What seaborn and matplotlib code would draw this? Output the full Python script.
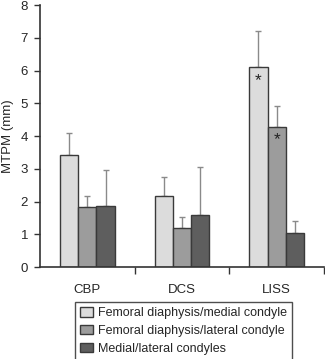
import matplotlib
matplotlib.use("Agg")
import matplotlib.pyplot as plt
import seaborn as sns
import pandas as pd
import numpy as np

categories = ["CBP", "DCS", "LISS"]
series = ["Femoral diaphysis/medial condyle", "Femoral diaphysis/lateral condyle", "Medial/lateral condyles"]
medial = [3.42, 2.18, 6.10]
lateral = [1.82, 1.20, 4.28]
condyles = [1.87, 1.60, 1.03]
err_medial = [0.66, 0.57, 1.10]
err_lateral = [0.36, 0.32, 0.65]
err_condyles = [1.10, 1.46, 0.38]
colors = ["#dcdcdc", "#9c9c9c", "#5e5e5e"]

vals = [medial, lateral, condyles]
errs = [err_medial, err_lateral, err_condyles]
rows = []
for s, v in zip(series, vals):
    for c, x in zip(categories, v):
        rows.append({"cat": c, "series": s, "val": x})
df = pd.DataFrame(rows)

sns.set_style("white")
plt.rcParams["font.family"] = ["Liberation Sans", "DejaVu Sans"]

fig = plt.figure(figsize=(3.25, 3.59), dpi=100)
ax = fig.add_axes([0.123, 0.256, 0.874, 0.730])
sns.barplot(data=df, x="cat", y="val", hue="series", palette=colors, order=categories,
            hue_order=series, errorbar=None, width=0.58, edgecolor="#3a3a3a",
            linewidth=1.0, ax=ax, legend=True)

bar_containers = list(ax.containers)
# error bars (upper only)
for i, cont in enumerate(bar_containers):
    for j, p in enumerate(cont.patches):
        p.set_zorder(2)
        xc = p.get_x() + p.get_width() / 2
        h = p.get_height()
        ax.errorbar(xc, h, yerr=[[0], [errs[i][j]]], fmt="none", ecolor="#8a8a8a",
                    elinewidth=1.0, capsize=2.3, capthick=1.0, zorder=1)

# asterisks
for i in range(2):
    p = bar_containers[i].patches[2]
    xc = p.get_x() + p.get_width() / 2
    ax.text(xc, p.get_height() - 0.4, "*", ha="center", va="center", fontsize=12.5, color="#222222")

ax.set_ylim(0, 8)
ax.set_xlim(-0.5, 2.5)
ax.set_yticks(range(0, 9))
ax.set_ylabel("MTPM (mm)", fontsize=9.5, labelpad=5)
ax.set_xlabel("")
ax.tick_params(axis="y", labelsize=9.5, length=4.5, width=1, direction="out", left=True, color="#333333", pad=4)
ax.tick_params(axis="x", which="major", length=0, labelsize=9.5, pad=12)
ax.set_xticks([0.5, 1.5, 2.5], minor=True)
ax.tick_params(axis="x", which="minor", length=5, width=1, direction="out", bottom=True, color="#333333")
sns.despine(ax=ax)
for s in ["left", "bottom"]:
    ax.spines[s].set_color("#333333")
    ax.spines[s].set_linewidth(1.2)

h, l = ax.get_legend_handles_labels()
ax.get_legend().remove()
leg = fig.legend(h, l, loc="upper left", bbox_to_anchor=(75 / 325, 1 - 302 / 359),
                 fontsize=9.0, frameon=True, fancybox=False, edgecolor="#222222",
                 handlelength=1.0, handleheight=0.8, handletextpad=0.4,
                 labelspacing=0.45, borderpad=0.4, borderaxespad=0)
leg.get_frame().set_linewidth(1.0)

fig.savefig("out.png", dpi=100)
